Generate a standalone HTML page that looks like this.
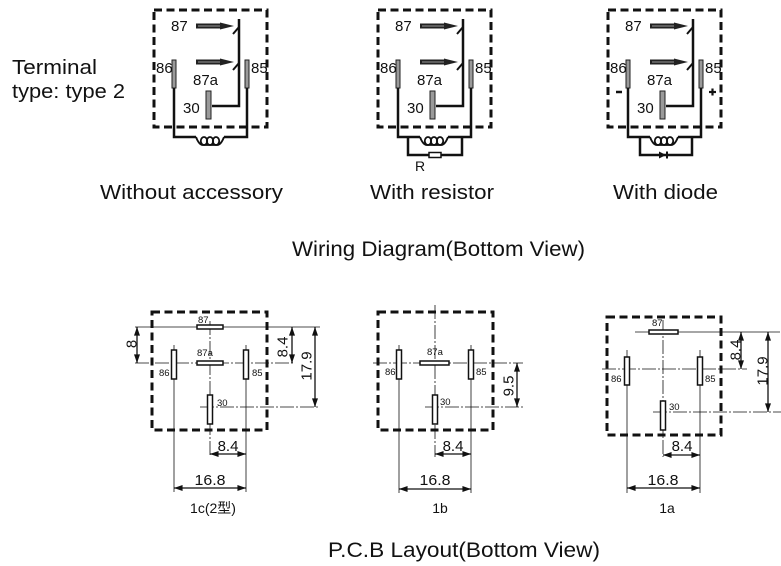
<!DOCTYPE html>
<html><head><meta charset="utf-8"><style>
html,body{margin:0;padding:0;background:#fff;}
svg{display:block;}
text{font-family:"Liberation Sans","Noto Sans CJK SC",sans-serif;fill:#111;}
</style></head><body>
<svg width="781" height="566" viewBox="0 0 781 566" xmlns="http://www.w3.org/2000/svg">
<defs>
<marker id="ah" viewBox="0 0 10 7" refX="10" refY="3.5" markerUnits="userSpaceOnUse" markerWidth="9" markerHeight="6" orient="auto-start-reverse"><path d="M0,0 L10,3.5 L0,7 z" fill="#111"/></marker>
<g id="relay">
 <rect x="154" y="10" width="113" height="117" fill="none" stroke="#111" stroke-width="3" stroke-dasharray="8 4.5"/>
 <!-- arrows -->
 <rect x="196" y="23.5" width="26" height="5" fill="#222"/>
 <line x1="198" y1="26" x2="220" y2="26" stroke="#999" stroke-width="1"/>
 <polygon points="220,22.5 234,26 220,29.5" fill="#222"/>
 <rect x="196" y="59.5" width="26" height="5" fill="#222"/>
 <line x1="198" y1="62" x2="220" y2="62" stroke="#999" stroke-width="1"/>
 <polygon points="220,58.5 234,62 220,65.5" fill="#222"/>
 <!-- switch -->
 <polyline points="239,19 239,106 212,106" fill="none" stroke="#111" stroke-width="2.5"/>
 <line x1="239" y1="27" x2="233" y2="34" stroke="#111" stroke-width="2"/>
 <line x1="239" y1="63" x2="233" y2="70" stroke="#111" stroke-width="2"/>
 <!-- pins -->
 <rect x="172" y="60" width="4" height="28" fill="#9a9a9a" stroke="#222" stroke-width="1"/>
 <rect x="245" y="60" width="4" height="28" fill="#9a9a9a" stroke="#222" stroke-width="1"/>
 <rect x="206" y="91" width="5" height="28" fill="#9a9a9a" stroke="#222" stroke-width="1"/>
 <!-- wires -->
 <polyline points="174,88 174,137 196,137" fill="none" stroke="#111" stroke-width="2.5"/>
 <polyline points="247,88 247,137 224,137" fill="none" stroke="#111" stroke-width="2.5"/>
 <path d="M196 137 Q199 145 203 145 L217 145 Q221 145 224 137" fill="none" stroke="#111" stroke-width="1.8"/>
 <ellipse cx="204" cy="141" rx="3.2" ry="4" fill="none" stroke="#111" stroke-width="1.8"/>
 <ellipse cx="210" cy="141" rx="3.2" ry="4" fill="none" stroke="#111" stroke-width="1.8"/>
 <ellipse cx="216" cy="141" rx="3.2" ry="4" fill="none" stroke="#111" stroke-width="1.8"/>
 <!-- labels -->
 <text x="171" y="31" font-size="15">87</text>
 <text x="156" y="73" font-size="15">86</text>
 <text x="251" y="73" font-size="15">85</text>
 <text x="193" y="85" font-size="15">87a</text>
 <text x="183" y="113" font-size="15">30</text>
</g>
</defs>
<rect width="781" height="566" fill="#fff"/>

<text x="12" y="74" font-size="20" textLength="85" lengthAdjust="spacingAndGlyphs">Terminal</text>
<text x="12" y="98" font-size="20" textLength="113" lengthAdjust="spacingAndGlyphs">type: type 2</text>

<use href="#relay"/>
<use href="#relay" transform="translate(224,0)"/>
<use href="#relay" transform="translate(454,0)"/>

<!-- resistor loop -->
<polyline points="408,137 408,155 462,155 462,137" fill="none" stroke="#111" stroke-width="2.5"/>
<rect x="429" y="152.5" width="12" height="5" fill="#fff" stroke="#111" stroke-width="1.5"/>
<text x="415" y="171" font-size="14">R</text>

<!-- diode loop -->
<polyline points="640,137 640,155 692,155 692,137" fill="none" stroke="#111" stroke-width="2.5"/>
<polygon points="659,151.5 659,158.5 666,155" fill="#111"/>
<line x1="667" y1="151.5" x2="667" y2="158.5" stroke="#111" stroke-width="2"/>
<line x1="616" y1="92" x2="622" y2="92" stroke="#111" stroke-width="2.5"/>
<line x1="709" y1="92" x2="716" y2="92" stroke="#111" stroke-width="2.2"/>
<line x1="712.5" y1="88.5" x2="712.5" y2="95.5" stroke="#111" stroke-width="2.2"/>

<text x="100" y="199" font-size="20" textLength="183" lengthAdjust="spacingAndGlyphs">Without accessory</text>
<text x="370" y="199" font-size="20" textLength="124" lengthAdjust="spacingAndGlyphs">With resistor</text>
<text x="613" y="199" font-size="20" textLength="105" lengthAdjust="spacingAndGlyphs">With diode</text>

<text x="292" y="256" font-size="21" textLength="293" lengthAdjust="spacingAndGlyphs">Wiring Diagram(Bottom View)</text>

<!-- ===== PCB 1c ===== -->
<g stroke="#111" stroke-width="0.8" fill="none">
 <line x1="135" y1="327" x2="320" y2="327"/>
 <line x1="135" y1="363" x2="293" y2="363" stroke-dasharray="14 2 2 2"/>
 <line x1="210" y1="321" x2="210" y2="457" stroke-dasharray="14 2 2 2"/>
 <line x1="200" y1="407" x2="320" y2="407" stroke-dasharray="14 2 2 2"/>
 <line x1="174" y1="345" x2="174" y2="492"/>
 <line x1="246" y1="345" x2="246" y2="492"/>
</g>
<rect x="152" y="312" width="115" height="118" fill="none" stroke="#111" stroke-width="3" stroke-dasharray="8 4.5"/>
<g fill="#fff" stroke="#111" stroke-width="1.5">
 <rect x="197" y="325" width="26" height="4"/>
 <rect x="197" y="361" width="26" height="4"/>
 <rect x="171.5" y="350" width="5" height="29"/>
 <rect x="243.5" y="350" width="5" height="29"/>
 <rect x="207.5" y="395" width="5" height="29"/>
</g>
<g font-size="9.5">
 <text x="198" y="323">87</text>
 <text x="197" y="356">87a</text>
 <text x="159" y="376">86</text>
 <text x="252" y="376">85</text>
 <text x="217" y="406">30</text>
</g>
<g stroke="#111" stroke-width="1.3" marker-start="url(#ah)" marker-end="url(#ah)">
 <line x1="137" y1="327" x2="137" y2="363"/>
 <line x1="292" y1="327" x2="292" y2="363"/>
 <line x1="315" y1="327" x2="315" y2="407"/>
 <line x1="210" y1="454" x2="246" y2="454"/>
 <line x1="174" y1="488" x2="246" y2="488"/>
</g>
<g font-size="15" text-anchor="middle">
 <text transform="translate(136.5,344) rotate(-90)">8</text>
 <text transform="translate(287.5,347) rotate(-90)">8.4</text>
 <text transform="translate(311.5,366) rotate(-90)">17.9</text>
 <text x="228" y="451">8.4</text>
 <text x="210" y="485" textLength="31" lengthAdjust="spacingAndGlyphs">16.8</text>
</g>
<text x="213" y="513" font-size="14" text-anchor="middle">1c(2型)</text>

<!-- ===== PCB 1b ===== -->
<g stroke="#111" stroke-width="0.8" fill="none">
 <line x1="435" y1="305" x2="435" y2="457" stroke-dasharray="14 2 2 2"/>
 <line x1="373" y1="363" x2="523" y2="363" stroke-dasharray="14 2 2 2"/>
 <line x1="425" y1="407" x2="523" y2="407" stroke-dasharray="14 2 2 2"/>
 <line x1="399" y1="345" x2="399" y2="493"/>
 <line x1="471" y1="345" x2="471" y2="493"/>
</g>
<rect x="378" y="312" width="115" height="118" fill="none" stroke="#111" stroke-width="3" stroke-dasharray="8 4.5"/>
<g fill="#fff" stroke="#111" stroke-width="1.5">
 <rect x="420" y="361" width="29" height="4"/>
 <rect x="396.5" y="350" width="5" height="29"/>
 <rect x="468.5" y="350" width="5" height="29"/>
 <rect x="432.5" y="395" width="5" height="29"/>
</g>
<g font-size="9.5">
 <text x="427" y="355">87a</text>
 <text x="385" y="375">86</text>
 <text x="476" y="375">85</text>
 <text x="440" y="405">30</text>
</g>
<g stroke="#111" stroke-width="1.3" marker-start="url(#ah)" marker-end="url(#ah)">
 <line x1="517" y1="363" x2="517" y2="407"/>
 <line x1="435" y1="454" x2="471" y2="454"/>
 <line x1="399" y1="489" x2="471" y2="489"/>
</g>
<g font-size="15" text-anchor="middle">
 <text transform="translate(513.5,386) rotate(-90)">9.5</text>
 <text x="453" y="451">8.4</text>
 <text x="435" y="485" textLength="31" lengthAdjust="spacingAndGlyphs">16.8</text>
</g>
<text x="440" y="513" font-size="14" text-anchor="middle">1b</text>

<!-- ===== PCB 1a ===== -->
<g stroke="#111" stroke-width="0.8" fill="none">
 <line x1="663" y1="320" x2="663" y2="457" stroke-dasharray="14 2 2 2"/>
 <line x1="635" y1="332" x2="780" y2="332"/>
 <line x1="602" y1="369" x2="747" y2="369" stroke-dasharray="14 2 2 2"/>
 <line x1="653" y1="412" x2="781" y2="412" stroke-dasharray="14 2 2 2"/>
 <line x1="627" y1="350" x2="627" y2="493"/>
 <line x1="700" y1="350" x2="700" y2="493"/>
</g>
<rect x="607" y="317" width="114" height="118" fill="none" stroke="#111" stroke-width="3" stroke-dasharray="8 4.5"/>
<g fill="#fff" stroke="#111" stroke-width="1.5">
 <rect x="649" y="330" width="29" height="4"/>
 <rect x="624.5" y="357" width="5" height="28"/>
 <rect x="697.5" y="357" width="5" height="28"/>
 <rect x="660.5" y="401" width="5" height="29"/>
</g>
<g font-size="9.5">
 <text x="652" y="326">87</text>
 <text x="611" y="382">86</text>
 <text x="705" y="382">85</text>
 <text x="669" y="410">30</text>
</g>
<g stroke="#111" stroke-width="1.3" marker-start="url(#ah)" marker-end="url(#ah)">
 <line x1="741" y1="332" x2="741" y2="369"/>
 <line x1="768" y1="332" x2="768" y2="412"/>
 <line x1="663" y1="455" x2="700" y2="455"/>
 <line x1="627" y1="488" x2="700" y2="488"/>
</g>
<g font-size="15" text-anchor="middle">
 <text transform="translate(740.5,350) rotate(-90)">8.4</text>
 <text transform="translate(767.5,371) rotate(-90)">17.9</text>
 <text x="682" y="451">8.4</text>
 <text x="663" y="485" textLength="31" lengthAdjust="spacingAndGlyphs">16.8</text>
</g>
<text x="667" y="513" font-size="14" text-anchor="middle">1a</text>

<text x="328" y="557" font-size="21" textLength="272" lengthAdjust="spacingAndGlyphs">P.C.B Layout(Bottom View)</text>
</svg>
</body></html>
